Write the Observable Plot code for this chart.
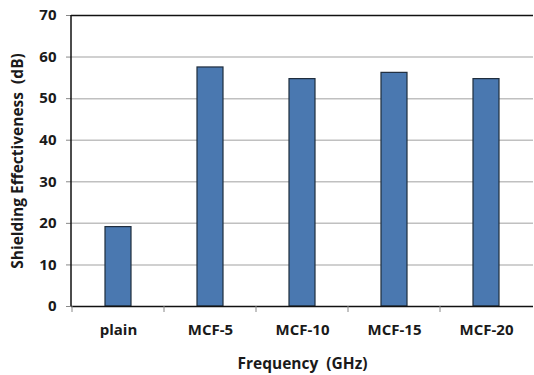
<!DOCTYPE html>
<html><head><meta charset="utf-8">
<script src="https://cdn.jsdelivr.net/npm/d3@7"></script>
<script src="https://cdn.jsdelivr.net/npm/@observablehq/plot@0.6"></script>
<style>body{margin:0;background:#fff;overflow:hidden} svg{display:block} svg text{white-space:pre}</style>
</head><body><div id="chart"></div>
<script>
const categories = ["plain", "MCF-5", "MCF-10", "MCF-15", "MCF-20"];
const values = [19.1, 57.5, 54.7, 56.2, 54.7];
const yTicks = [0, 10, 20, 30, 40, 50, 60, 70];
const gridTicks = [10, 20, 30, 40, 50, 60];
const yDomain = [0, 70];
const xTitle = "Frequency  (GHz)";
const yTitle = "Shielding Effectiveness  (dB)";
const data = categories.map((c, i) => ({category: c, value: values[i]}));

const plot = Plot.plot({
  width: 534, height: 375,
  marginLeft: 71, marginRight: 1, marginTop: 15, marginBottom: 69,
  style: {fontFamily: "'Open Sans', sans-serif", fontSize: "15px", fontWeight: "bold", color: "#1a1a1a", background: "#fff", overflow: "hidden"},
  x: {domain: categories, paddingInner: 0.713, paddingOuter: 0.3565, label: null},
  y: {domain: yDomain, ticks: yTicks, label: null},
  marks: [
    Plot.ruleY(gridTicks, {stroke: "#c0c0c0", strokeWidth: 1.5}),
    Plot.barY(data, {x: "category", y: "value", fill: "#4a78b0", stroke: "#1f2d3d", strokeWidth: 1.2}),
    Plot.ruleY(yDomain, {stroke: "#111", strokeWidth: 1.5}),
    Plot.axisY({ticks: yTicks, tickSize: 5, tickPadding: 10, fontSize: 15, fontWeight: "bold", label: null, stroke: "#888"}),
    Plot.axisX({tickSize: 0, tickPadding: 18, fontSize: 15, fontWeight: "bold", label: null}),
    Plot.text([xTitle], {frameAnchor: "bottom", dy: 58, lineAnchor: "middle", fontSize: 15.5, fontWeight: "bold", fill: "#1a1a1a"}),
    Plot.text([yTitle], {frameAnchor: "left", dx: -53, rotate: -90, textAnchor: "middle", lineAnchor: "middle", fontSize: 15.5, fontWeight: "bold", fill: "#1a1a1a"})
  ]
});

const xs = plot.scale("x");
const ys = plot.scale("y");
const svg = d3.select(plot);
// left border of the plot area
svg.append("line")
  .attr("x1", xs.range[0]).attr("x2", xs.range[0])
  .attr("y1", ys.apply(yDomain[0])).attr("y2", ys.apply(yDomain[1]))
  .attr("stroke", "#111").attr("stroke-width", 1.5);
// category boundary ticks below the axis (interior boundaries plus the left edge)
const half = (xs.step - xs.bandwidth) / 2;
const bounds = categories.map(c => xs.apply(c) - half);
const y0 = ys.apply(0);
svg.append("g").selectAll("line").data(bounds).join("line")
  .attr("x1", d => d).attr("x2", d => d)
  .attr("y1", y0).attr("y2", y0 + 6)
  .attr("stroke", "#888").attr("stroke-width", 1);

document.getElementById("chart").appendChild(plot);
</script>
</body></html>
